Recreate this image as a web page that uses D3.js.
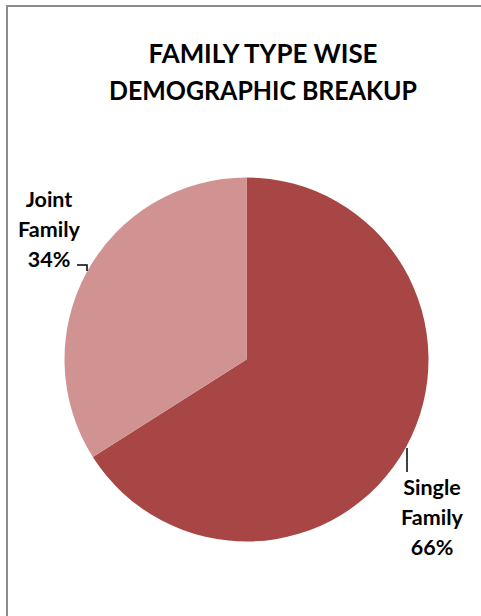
<!DOCTYPE html>
<html>
<head>
<meta charset="utf-8">
<script src="https://cdn.jsdelivr.net/npm/d3@7"></script>
<style>
  html, body { margin: 0; padding: 0; background: #fff; }
  svg { display: block; }
</style>
</head>
<body>
<svg id="chart" width="481" height="616"></svg>
<script>
// Family type shares (percent)
const categories = ["Single Family", "Joint Family"];
const values = [66, 34];
const labelLines = [["Single", "Family", "66%"], ["Joint", "Family", "34%"]];
const titleLines = ["FAMILY TYPE WISE", "DEMOGRAPHIC BREAKUP"];

const colors = d3.scaleOrdinal().domain(categories).range(["#A84646", "#D19292"]);

const svg = d3.select("#chart");
const W = 481, H = 616;

// outer frame
svg.append("rect")
  .attr("x", 7).attr("y", 6)
  .attr("width", W + 10).attr("height", H + 10)
  .attr("fill", "#fff")
  .attr("stroke", "#8c8c8c").attr("stroke-width", 2);

const font = "Lato, 'Open Sans', sans-serif";

// title, two centred lines
const titleWidths = [229, 308];
svg.append("g").selectAll("text")
  .data(titleLines)
  .join("text")
  .attr("x", 263)
  .attr("y", (d, i) => 63 + i * 37)
  .attr("text-anchor", "middle")
  .attr("font-family", font)
  .attr("font-weight", "bold")
  .attr("font-size", 27)
  .attr("textLength", (d, i) => titleWidths[i])
  .attr("lengthAdjust", "spacingAndGlyphs")
  .attr("fill", "#000")
  .text(d => d);

const cx = 246.5, cy = 359.5, r = 182;

const pie = d3.pie().sort(null).value(d => d);
const arcs = pie(values);
const arc = d3.arc().innerRadius(0).outerRadius(r);

const g = svg.append("g").attr("transform", `translate(${cx},${cy})`);
g.selectAll("path")
  .data(arcs)
  .join("path")
  .attr("d", arc)
  .attr("fill", (d, i) => colors(categories[i]));

// data labels with short leader lines
const labelPos = [
  { x: 432, y: 495, leader: [[407, 448], [407, 472]] },
  { x: 49, y: 207, leader: [[77, 265], [87, 265], [87, 271]] }
];

labelPos.forEach((p, i) => {
  svg.append("path")
    .attr("d", d3.line()(p.leader))
    .attr("fill", "none")
    .attr("stroke", "#000")
    .attr("stroke-width", 1.5);
  svg.append("g").selectAll("text")
    .data(labelLines[i])
    .join("text")
    .attr("x", p.x)
    .attr("y", (d, j) => p.y + j * 30)
    .attr("text-anchor", "middle")
    .attr("font-family", font)
    .attr("font-weight", "bold")
    .attr("font-size", 21.5)
    .attr("fill", "#000")
    .text(d => d);
});
</script>
</body>
</html>
